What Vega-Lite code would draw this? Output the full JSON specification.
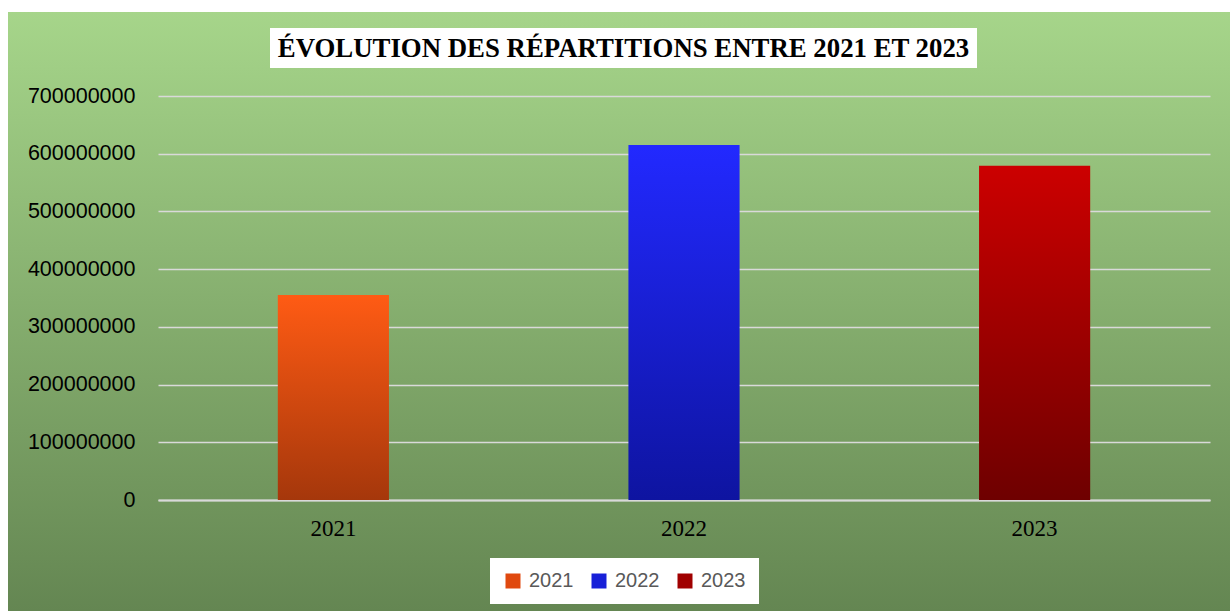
{
  "$schema": "https://vega.github.io/schema/vega-lite/v6.json",
  "background": "#ffffff",
  "padding": {"left": 8, "top": 12, "right": 0, "bottom": 0},
  "spacing": 0,
  "config": {"concat": {"spacing": 0}},
  "vconcat": [
    {
      "spacing": 0,
      "hconcat": [
        {
          "width": 262, "height": 56,
          "view": {"stroke": null, "fill": {"gradient": "linear", "x1": 0, "y1": 0, "x2": 0, "y2": 1, "stops": [{"offset": 0, "color": "#a6d58a"}, {"offset": 1, "color": "#a0ce85"}]}},
          "data": {"values": []},
          "mark": "rect"
        },
        {
          "spacing": 0,
          "vconcat": [
            {
              "width": 707, "height": 16,
              "view": {"stroke": null, "fill": {"gradient": "linear", "x1": 0, "y1": 0, "x2": 0, "y2": 1, "stops": [{"offset": 0, "color": "#a6d58a"}, {"offset": 1, "color": "#a4d388"}]}},
              "data": {"values": []},
              "mark": "rect"
            },
            {
              "width": 707,
              "height": 40,
              "view": {"fill": "#ffffff", "stroke": null},
              "data": {"values": [{"titre": "ÉVOLUTION DES RÉPARTITIONS ENTRE 2021 ET 2023"}]},
              "mark": {"type": "text", "font": "Liberation Serif", "fontSize": 26.8, "fontWeight": "bold", "color": "#000000", "align": "center", "baseline": "middle", "dy": 1},
              "encoding": {"text": {"field": "titre", "type": "nominal"}}
            }
          ]
        },
        {
          "width": 253, "height": 56,
          "view": {"stroke": null, "fill": {"gradient": "linear", "x1": 0, "y1": 0, "x2": 0, "y2": 1, "stops": [{"offset": 0, "color": "#a6d58a"}, {"offset": 1, "color": "#a0ce85"}]}},
          "data": {"values": []},
          "mark": "rect"
        }
      ]
    },
    {
      "width": 1222,
      "height": 543,
      "view": {
        "stroke": null,
        "fill": {"gradient": "linear", "x1": 0, "y1": 0, "x2": 0, "y2": 1,
          "stops": [{"offset": 0, "color": "#a0ce85"}, {"offset": 1, "color": "#648652"}]}
      },
      "data": {"values": [
        {"annee": "2021", "montant": 355000000},
        {"annee": "2022", "montant": 615000000},
        {"annee": "2023", "montant": 579000000}
      ]},
      "mark": {"type": "bar"},
      "encoding": {
        "x": {
          "field": "annee", "type": "nominal", "sort": null,
          "scale": {"range": [150, 1202], "paddingInner": 0.683, "paddingOuter": 0.3417},
          "axis": {
            "title": null, "orient": "bottom", "offset": -111,
            "labelAngle": 0, "labelFont": "Liberation Serif", "labelFontSize": 23,
            "labelColor": "#000000", "labelPadding": 17,
            "ticks": false, "tickSize": 0,
            "domain": true, "domainColor": "#d9d9d9", "domainWidth": 2,
            "grid": false
          }
        },
        "y": {
          "field": "montant", "type": "quantitative",
          "scale": {"domain": [0, 700000000], "range": [432, 28], "nice": false, "zero": true},
          "axis": {
            "title": null, "orient": "left", "offset": -150,
            "values": [0, 100000000, 200000000, 300000000, 400000000, 500000000, 600000000, 700000000],
            "format": "d",
            "labelFont": "Liberation Sans", "labelFontSize": 21.5, "labelColor": "#000000",
            "labelPadding": 23, "ticks": false, "tickSize": 0, "domain": false,
            "grid": true, "gridColor": "#d9d9d9", "gridWidth": 1.3
          }
        },
        "color": {
          "field": "annee", "type": "nominal",
          "condition": [
            {"test": "datum.annee === '2021'", "value": {"gradient": "linear", "x1": 0, "y1": 0, "x2": 0, "y2": 1, "stops": [{"offset": 0, "color": "#ff5b14"}, {"offset": 1, "color": "#a5370b"}]}},
            {"test": "datum.annee === '2022'", "value": {"gradient": "linear", "x1": 0, "y1": 0, "x2": 0, "y2": 1, "stops": [{"offset": 0, "color": "#2229ff"}, {"offset": 1, "color": "#0e14a0"}]}},
            {"test": "datum.annee === '2023'", "value": {"gradient": "linear", "x1": 0, "y1": 0, "x2": 0, "y2": 1, "stops": [{"offset": 0, "color": "#cc0000"}, {"offset": 1, "color": "#6e0000"}]}}
          ],
          "scale": {"domain": ["2021", "2022", "2023"], "range": ["#e0490f", "#1820d8", "#a00000"]},
          "legend": {
            "title": null, "orient": "none", "legendX": 482, "legendY": 546,
            "direction": "horizontal", "fillColor": "#ffffff", "padding": 13,
            "symbolType": "square", "symbolSize": 225, "symbolStrokeWidth": 0,
            "labelFont": "Liberation Sans", "labelFontSize": 20, "labelColor": "#595959",
            "labelOffset": 6, "columnPadding": 15
          }
        }
      }
    }
  ]
}
